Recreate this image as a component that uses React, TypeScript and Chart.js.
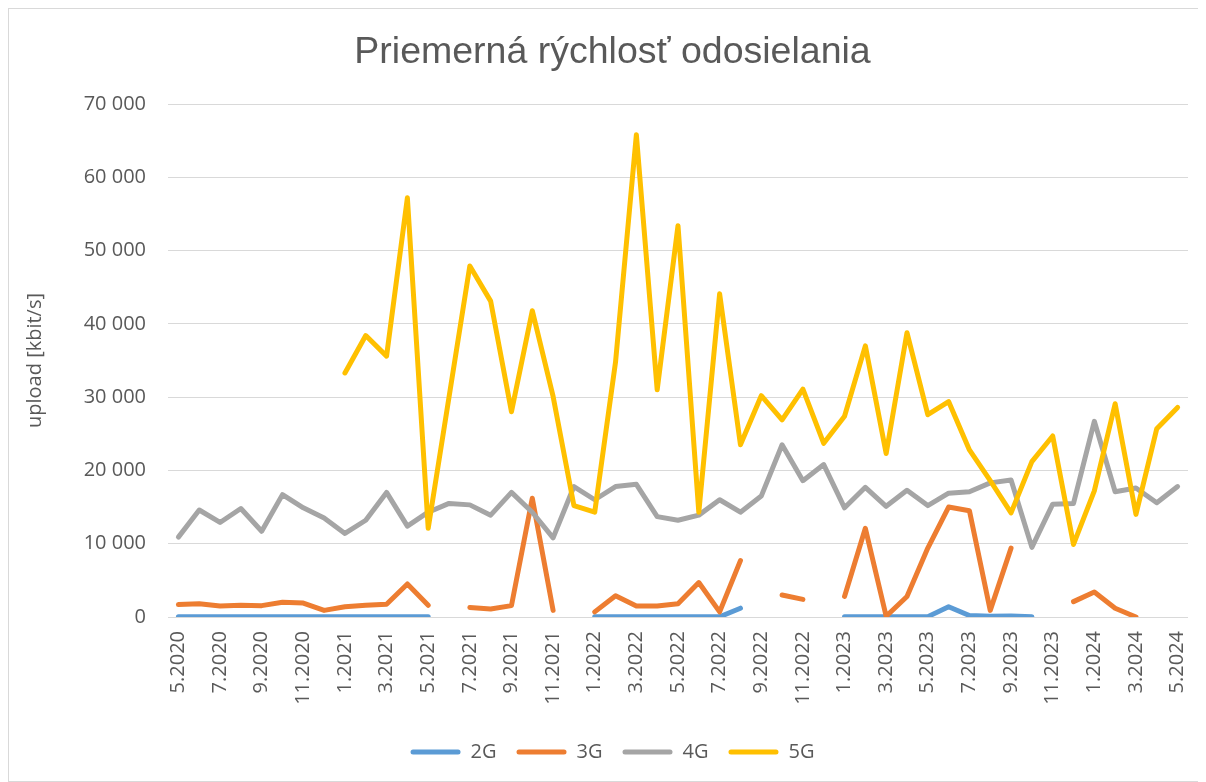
import React, { useEffect, useRef } from "react";
import { Chart, registerables } from "chart.js";

Chart.register(...registerables);

const months: string[] = [
  "5.2020", "6.2020", "7.2020", "8.2020", "9.2020", "10.2020", "11.2020", "12.2020",
  "1.2021", "2.2021", "3.2021", "4.2021", "5.2021", "6.2021", "7.2021", "8.2021",
  "9.2021", "10.2021", "11.2021", "12.2021", "1.2022", "2.2022", "3.2022", "4.2022",
  "5.2022", "6.2022", "7.2022", "8.2022", "9.2022", "10.2022", "11.2022", "12.2022",
  "1.2023", "2.2023", "3.2023", "4.2023", "5.2023", "6.2023", "7.2023", "8.2023",
  "9.2023", "10.2023", "11.2023", "12.2023", "1.2024", "2.2024", "3.2024", "4.2024",
  "5.2024",
];

const series2G: (number | null)[] = [
  30, 30, 30, 30, 30, 30, 30, 30, 30, 30, 30, 30, 30,
  null, null, null, null, null, null, null,
  30, 30, 30, 30, 30, 30, 30, 1200,
  null, null, null, null,
  30, 30, 40, 40, 50, 1400, 200, 100, 150, 20,
  null, null, null, null, null, null, null,
];

const series3G: (number | null)[] = [
  1700, 1800, 1500, 1600, 1550, 2000, 1900, 900, 1400, 1600, 1750, 4500, 1600,
  null, 1300, 1100, 1550, 16200, 900, null,
  700, 2900, 1500, 1500, 1800, 4700, 700, 7700,
  null, 3000, 2400, null,
  2800, 12100, 100, 2800, 9400, 15000, 14500, 900, 9400,
  null, null, 2100, 3400, 1200, 0, null, null,
];

const series4G: (number | null)[] = [
  10900, 14600, 12900, 14800, 11700, 16700, 14900, 13500, 11400, 13200, 17000, 12400, 14300,
  15500, 15300, 13900, 17000, 14300, 10800, 17800, 16000, 17800, 18100, 13700,
  13200, 13900, 16000, 14300, 16500, 23500, 18600, 20800, 14900, 17700, 15100, 17300,
  15200, 16900, 17100, 18300, 18700, 9500, 15400, 15500, 26700, 17100, 17600, 15600,
  17800,
];

const series5G: (number | null)[] = [
  null, null, null, null, null, null, null, null,
  33300, 38400, 35600, 57200, 12100, 30000, 47900, 43100,
  28000, 41800, 30100, 15200, 14300, 34800, 65800, 31000,
  53400, 14300, 44100, 23500, 30200, 26900, 31100, 23700,
  27400, 37000, 22300, 38800, 27600, 29400, 22800, 18600,
  14200, 21200, 24700, 9900, 17200, 29100, 14000, 25700,
  28600,
];

const seriesNames: string[] = ["2G", "3G", "4G", "5G"];
const seriesColors: string[] = ["#5B9BD5", "#ED7D31", "#A5A5A5", "#FFC000"];
const yTicks: number[] = [0, 10000, 20000, 30000, 40000, 50000, 60000, 70000];

const TEXT = "#595959";
const fmt = (v: number) => String(v).replace(/\B(?=(\d{3})+(?!\d))/g, " ");

export default function App() {
  const ref = useRef<HTMLCanvasElement | null>(null);

  useEffect(() => {
    if (!ref.current) return;
    const all = [series2G, series3G, series4G, series5G];
    const chart = new Chart(ref.current, {
      type: "line",
      data: {
        labels: months,
        datasets: all.map((d, i) => ({
          label: seriesNames[i],
          data: d,
          borderColor: seriesColors[i],
          backgroundColor: seriesColors[i],
          borderWidth: 5,
          pointRadius: 0,
          tension: 0,
          spanGaps: false,
          borderJoinStyle: "round" as const,
          borderCapStyle: "round" as const,
          order: 3 - i,
        })),
      },
      options: {
        responsive: false,
        animation: false,
        layout: { padding: { top: 10, left: 28, right: 17, bottom: 9 } },
        plugins: {
          tooltip: { enabled: false },
          title: {
            display: true,
            text: "Priemerná rýchlosť odosielania",
            color: TEXT,
            font: { family: "'Liberation Sans', Arial, sans-serif", size: 37.5, weight: "normal" },
            padding: { top: 11, bottom: 29 },
          },
          legend: {
            position: "bottom",
            labels: {
              color: TEXT,
              font: { family: "'Open Sans', sans-serif", size: 20 },
              boxWidth: 50,
              boxHeight: 5,
              padding: 20,
              useBorderRadius: true,
              borderRadius: 2.5,
              sort: (a: any, b: any) => a.datasetIndex - b.datasetIndex,
              generateLabels: (c: any) =>
                Chart.defaults.plugins.legend.labels
                  .generateLabels(c)
                  .map((l: any) => ({ ...l, lineWidth: 0, strokeStyle: "rgba(0,0,0,0)" })),
            },
          },
        },
        scales: {
          x: {
            offset: true,
            grid: { display: false, drawTicks: false },
            border: { display: false },
            afterFit: (s: any) => {
              s.height = 105;
              s.paddingLeft = 0;
              s.paddingRight = 0;
            },
            ticks: {
              autoSkip: false,
              minRotation: 90,
              maxRotation: 90,
              padding: 14,
              color: TEXT,
              font: { family: "'Open Sans', sans-serif", size: 20 },
              callback: (_v: any, i: number) => (i % 2 === 0 ? months[i] : ""),
            },
          },
          y: {
            min: 0,
            max: 70000,
            afterFit: (s: any) => {
              s.width = 131;
            },
            afterBuildTicks: (s: any) => {
              s.ticks = yTicks.map((v) => ({ value: v }));
            },
            grid: { color: "#D9D9D9", lineWidth: 1, drawTicks: false },
            border: { display: false },
            title: {
              display: true,
              text: "upload [kbit/s]",
              color: TEXT,
              font: { family: "'Open Sans', sans-serif", size: 20 },
              padding: { top: -14, bottom: 0 },
            },
            ticks: {
              padding: 22,
              color: TEXT,
              font: { family: "'Open Sans', sans-serif", size: 20 },
              callback: (v: any) => fmt(Number(v)),
            },
          },
        },
      },
    });
    return () => chart.destroy();
  }, []);

  return (
    <div
      style={{
        width: 1196,
        height: 772,
        border: "1px solid #D9D9D9",
        background: "#fff",
      }}
    >
      <canvas ref={ref} width={1196} height={772} style={{ display: "block" }} />
    </div>
  );
}
